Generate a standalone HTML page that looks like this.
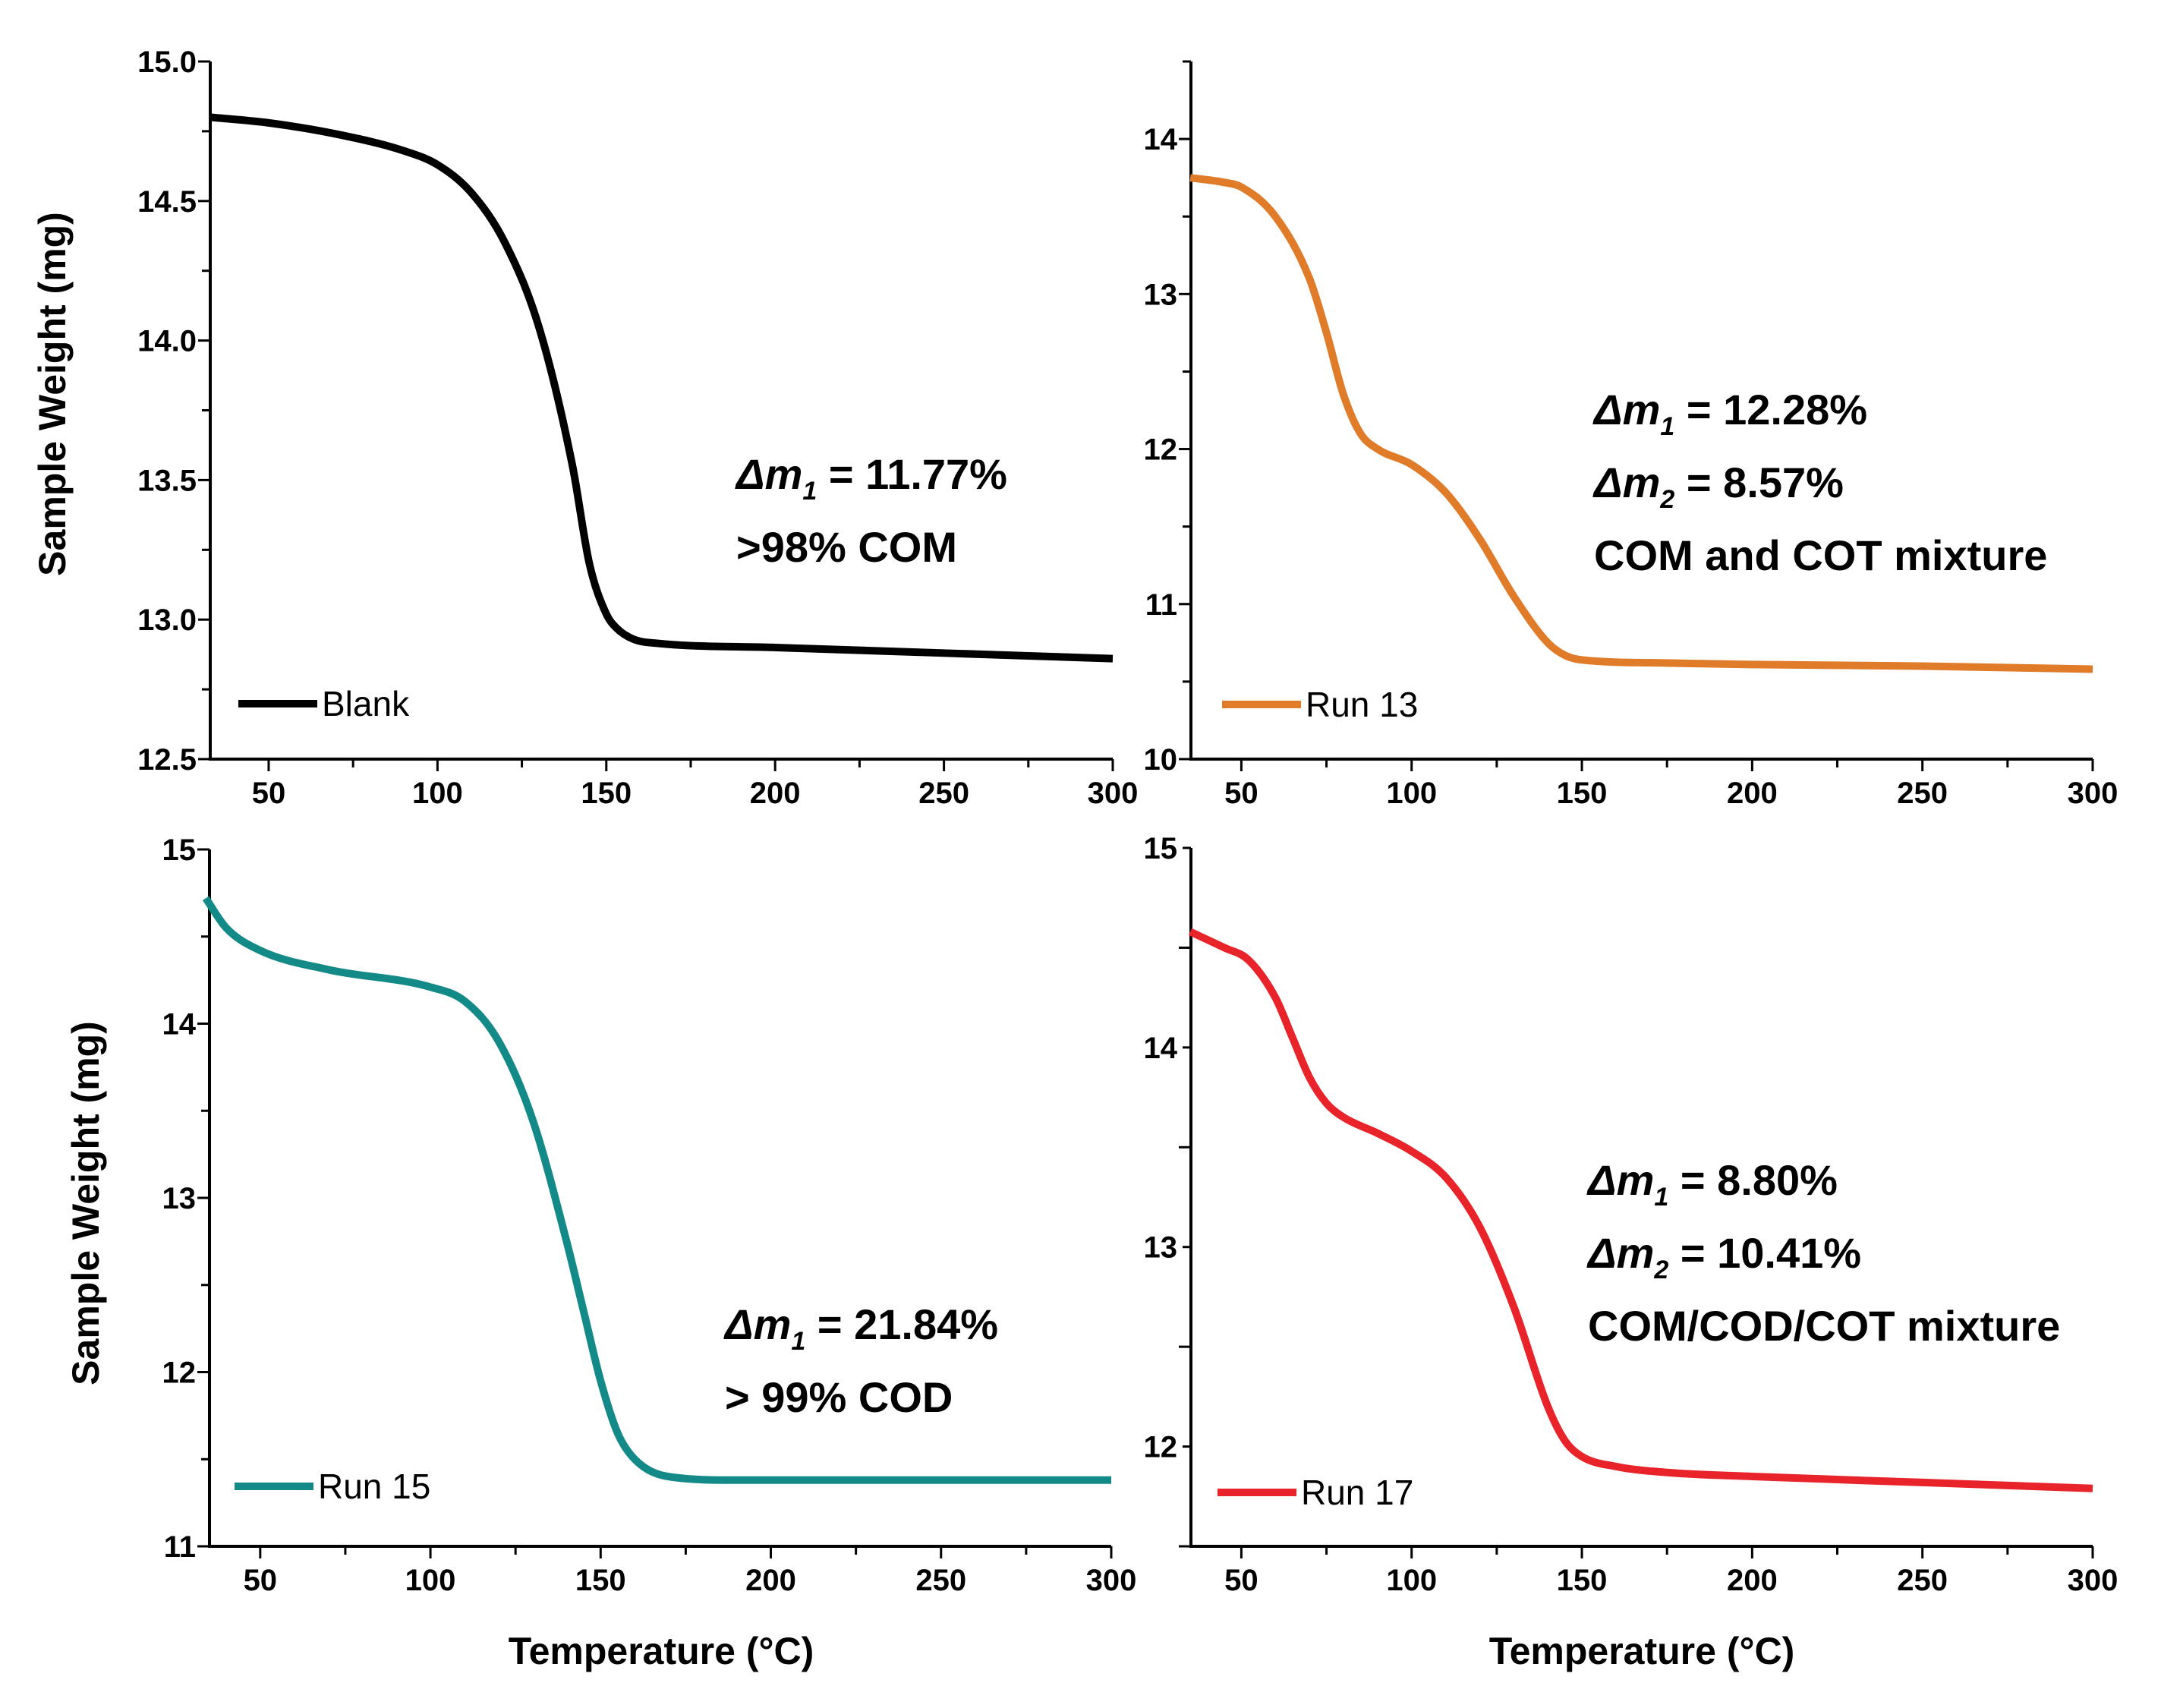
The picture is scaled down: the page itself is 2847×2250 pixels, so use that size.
<!DOCTYPE html>
<html><head><meta charset="utf-8"><style>
html,body{margin:0;padding:0;background:#fff;}
svg{display:block;font-family:"Liberation Sans",Arial,sans-serif;}
</style></head><body>
<svg id="fig" width="2847" height="2250" viewBox="0 0 2847 2250" xmlns="http://www.w3.org/2000/svg"></svg>
<script>
// Data arrays
const blankT = [33,50,70,90,100,110,120,130,140,145,150,153,158,165,200,250,300];
const blankW = [14.80,14.78,14.74,14.68,14.63,14.53,14.35,14.05,13.55,13.2,13.02,12.97,12.93,12.915,12.90,12.88,12.86];
const run13T = [35,45,50,60,70,75,80,85,90,100,110,120,130,140,145,150,175,200,250,300];
const run13W = [13.75,13.72,13.69,13.5,13.1,12.75,12.35,12.1,12.0,11.9,11.72,11.42,11.05,10.75,10.67,10.64,10.62,10.61,10.60,10.58];
const run15T = [34,40,50,70,100,110,120,130,140,145,150,155,160,170,190,300];
const run15W = [14.72,14.55,14.42,14.31,14.21,14.13,13.9,13.45,12.75,12.35,11.95,11.65,11.5,11.4,11.38,11.38];
const run17T = [35,45,52,60,65,70,75,80,90,100,110,120,130,140,145,150,160,175,200,250,300];
const run17W = [14.58,14.5,14.44,14.25,14.05,13.85,13.72,13.65,13.57,13.48,13.35,13.1,12.7,12.2,12.03,11.95,11.9,11.87,11.85,11.82,11.79];
const xTicks = [50,100,150,200,250,300];
const yTicks1 = ["12.5","13.0","13.5","14.0","14.5","15.0"];
const yTicks2 = ["10","11","12","13","14"];
const yTicks3 = ["11","12","13","14","15"];
const yTicks4 = ["12","13","14","15"];

const NS="http://www.w3.org/2000/svg";
const svg=document.getElementById('fig');
function mk(tag,attrs,parent){const e=document.createElementNS(NS,tag);for(const k in attrs)e.setAttribute(k,attrs[k]);(parent||svg).appendChild(e);return e;}

function monoPath(P){
  const n=P.length, dx=[], s=[], m=[];
  for(let i=0;i<n-1;i++){dx[i]=P[i+1][0]-P[i][0];s[i]=(P[i+1][1]-P[i][1])/dx[i];}
  m[0]=s[0];m[n-1]=s[n-2];
  for(let i=1;i<n-1;i++){m[i]=(s[i-1]*s[i]<=0)?0:(s[i-1]+s[i])/2;}
  for(let i=0;i<n-1;i++){
    if(s[i]===0){m[i]=0;m[i+1]=0;continue;}
    const a=m[i]/s[i],b=m[i+1]/s[i],h=a*a+b*b;
    if(h>9){const t=3/Math.sqrt(h);m[i]=t*a*s[i];m[i+1]=t*b*s[i];}
  }
  let d=`M${P[0][0]},${P[0][1]}`;
  for(let i=0;i<n-1;i++){
    const h=dx[i]/3;
    d+=` C${P[i][0]+h},${P[i][1]+m[i]*h} ${P[i+1][0]-h},${P[i+1][1]-m[i+1]*h} ${P[i+1][0]},${P[i+1][1]}`;
  }
  return d;
}

function panel(cfg){
  const g=mk('g',{});
  
  
  const xs=t=>cfg.px0+(t-cfg.t0)*(cfg.px1-cfg.px0)/(cfg.t1-cfg.t0);
  const ys=v=>cfg.py0+(v-cfg.v0)*(cfg.py1-cfg.py0)/(cfg.v1-cfg.v0);
  const ax=mk('path',{d:`M${cfg.px0},${cfg.py1} L${cfg.px0},${cfg.py0} L${cfg.px1},${cfg.py0}`,fill:'none',stroke:'#000','stroke-width':4},g);
  
  
  for(let t=25;t<=300;t+=25){
    if(t<cfg.t0)continue;
    const x=xs(t), major=t%50===0;
    mk('line',{x1:x,x2:x,y1:cfg.py0,y2:cfg.py0+(major?16:11),stroke:'#000','stroke-width':3},g);
  }
  xTicks.forEach(t=>{
    const tx=mk('text',{x:xs(t),y:cfg.py0+58,'text-anchor':'middle','font-size':40,'font-weight':'bold'},g);
    tx.textContent=t;
    
    
  });
  for(let v=cfg.v0;v<=cfg.v1+1e-9;v+=cfg.minor){
    const y=ys(v);
    const major=Math.abs((v-cfg.v0)/cfg.major-Math.round((v-cfg.v0)/cfg.major))<1e-6;
    mk('line',{x1:cfg.px0,x2:cfg.px0-(major?16:11),y1:y,y2:y,stroke:'#000','stroke-width':3},g);
  }
  cfg.yl.forEach(s=>{
    const ty=mk('text',{x:cfg.px0-18,y:ys(parseFloat(s))+14,'text-anchor':'end','font-size':40,'font-weight':'bold'},g);
    ty.textContent=s;
    
    
  });
  const P=cfg.T.map((t,i)=>[xs(t),ys(cfg.W[i])]);
  const c=mk('path',{d:monoPath(P),fill:'none',stroke:cfg.color,'stroke-width':10,'stroke-linejoin':'round'},g);
  
  
  const lg=mk('g',{},g);
  
  
  mk('line',{x1:cfg.lx,x2:cfg.lx+104,y1:cfg.ly,y2:cfg.ly,stroke:cfg.color,'stroke-width':10},lg);
  const lt=mk('text',{x:cfg.lx+110,y:cfg.ly+16,'font-size':46},lg);
  lt.textContent=cfg.label;
  cfg.ann.forEach((a,i)=>{
    const t=mk('text',{x:cfg.ax,y:cfg.ay+i*96,'font-size':56,'font-weight':'bold'},g);
    
    
    if(a.sub){
      t.innerHTML=`<tspan font-style="italic">Δm</tspan><tspan font-size="34" dy="14" font-style="italic">${a.sub}</tspan><tspan dy="-14"> = ${a.v}</tspan>`;
    } else t.textContent=a.v;
  });
}

panel({name:'blank-panel',px0:277,px1:1466,t0:32.7,t1:300,py0:1000,py1:81,v0:12.5,v1:15,major:0.5,minor:0.25,yl:yTicks1,T:blankT,W:blankW,color:'#000',lx:314,ly:927,label:'Blank',ax:970,ay:644,ann:[{sub:'1',v:'11.77%'},{v:'>98% COM'}]});
panel({name:'run13-panel',px0:1569,px1:2757,t0:35.2,t1:300,py0:1000,py1:81,v0:10,v1:14.5,major:1,minor:0.5,yl:yTicks2,T:run13T,W:run13W,color:'#e07b2a',lx:1610,ly:928,label:'Run 13',ax:2100,ay:559,ann:[{sub:'1',v:'12.28%'},{sub:'2',v:'8.57%'},{v:'COM and COT mixture'}]});
panel({name:'run15-panel',px0:276,px1:1464,t0:35.1,t1:300,py0:2037,py1:1119,v0:11,v1:15,major:1,minor:0.5,yl:yTicks3,T:run15T,W:run15W,color:'#138a87',lx:309,ly:1958,label:'Run 15',ax:955,ay:1764,ann:[{sub:'1',v:'21.84%'},{v:'> 99% COD'}]});
panel({name:'run17-panel',px0:1569,px1:2757,t0:35.2,t1:300,py0:2037,py1:1117,v0:11.5,v1:15,major:1,minor:0.5,yl:yTicks4,T:run17T,W:run17W,color:'#e8232a',lx:1604,ly:1966,label:'Run 17',ax:2092,ay:1574,ann:[{sub:'1',v:'8.80%'},{sub:'2',v:'10.41%'},{v:'COM/COD/COT mixture'}]});

[[69,519],[113,1585]].forEach(p=>{
  const t=mk('text',{x:p[0],y:p[1],'text-anchor':'middle','font-size':50,'font-weight':'bold',transform:`rotate(-90 ${p[0]} ${p[1]})`,dy:17});
  t.textContent='Sample Weight (mg)';
  
  
});
[871,2163].forEach(x=>{
  const t=mk('text',{x:x,y:2192,'text-anchor':'middle','font-size':50,'font-weight':'bold'});
  t.textContent='Temperature (°C)';
  
  
});
</script>
</body></html>
